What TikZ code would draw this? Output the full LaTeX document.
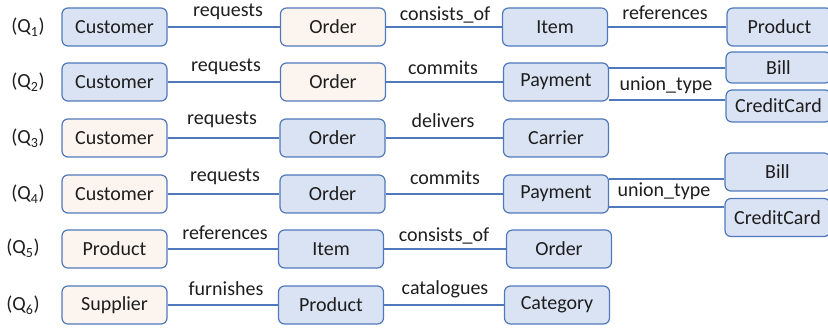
\documentclass[tikz,border=0pt]{standalone}
\usepackage{fontspec}
\setmainfont{Carlito}
\definecolor{bfill}{HTML}{DAE3F3}
\definecolor{pfill}{HTML}{FCF4EE}
\definecolor{edge}{HTML}{4F79BC}
\definecolor{txt}{HTML}{1E1E1E}
\begin{document}
\begin{tikzpicture}[x=1pt,y=-1pt,
  font=\fontsize{20}{24}\selectfont, text=txt,
  ent/.style={draw=edge, line width=1.2pt, rounded corners=6pt, minimum height=38pt, minimum width=105pt, inner sep=0pt},
  blu/.style={ent, fill=bfill},
  pch/.style={ent, fill=pfill},
  lnk/.style={draw=edge, line width=1.2pt},
  lab/.style={anchor=base, inner sep=0pt},
  ql/.style={anchor=base, inner sep=0pt}]
\useasboundingbox (0,0) rectangle (828,328);
% Q labels
\node[ql] (q1) at (28,33) {(Q\textsubscript{1})};
\node[ql] (q2) at (28,88) {(Q\textsubscript{2})};
\node[ql] (q3) at (28,144) {(Q\textsubscript{3})};
\node[ql] (q4) at (28,200) {(Q\textsubscript{4})};
\node[ql] (q5) at (23,254) {(Q\textsubscript{5})};
\node[ql] (q6) at (23,311) {(Q\textsubscript{6})};
% Row 1
\node[blu] (a1) at (114.5,27) {Customer};
\node[pch] (b1) at (333,27) {Order};
\node[blu] (c1) at (555,27) {Item};
\node[blu] (d1) at (779.5,27) {Product};
\draw[lnk] (a1) -- (b1); \draw[lnk] (b1) -- (c1); \draw[lnk] (c1) -- (d1);
\node[lab] (l11) at (228,17) {requests};
\node[lab] (l12) at (445,21) {consists\_of};
\node[lab] (l13) at (665,20) {references};
% Row 2
\node[blu] (a2) at (114.5,82) {Customer};
\node[pch] (b2) at (333,82) {Order};
\node[blu] (c2) at (556,82) {Payment};
\node[blu, minimum height=31pt] (d2) at (778.5,67.5) {Bill};
\node[blu, minimum height=32pt] (e2) at (778.5,106) {CreditCard};
\draw[lnk] (a2) -- (b2); \draw[lnk] (b2) -- (c2);
\draw[lnk] (c2.east |- 0,68) -- (d2.west |- 0,68);
\draw[lnk] (c2.east |- 0,100) -- (e2.west |- 0,100);
\node[lab] (l21) at (226,72) {requests};
\node[lab] (l22) at (443,75) {commits};
\node[lab] (l23) at (666,91) {union\_type};
% Row 3
\node[pch] (a3) at (114.5,138) {Customer};
\node[blu] (b3) at (332.5,138) {Order};
\node[blu] (c3) at (556,138) {Carrier};
\draw[lnk] (a3) -- (b3); \draw[lnk] (b3) -- (c3);
\node[lab] (l31) at (222,125) {requests};
\node[lab] (l32) at (443,128) {delivers};
% Row 4
\node[pch] (a4) at (114.5,194) {Customer};
\node[blu] (b4) at (332.5,194) {Order};
\node[blu] (c4) at (556,194) {Payment};
\node[blu] (d4) at (777.5,172) {Bill};
\node[blu] (e4) at (777.5,217.5) {CreditCard};
\draw[lnk] (a4) -- (b4); \draw[lnk] (b4) -- (c4);
\draw[lnk] (c4.east |- 0,179) -- (d4.west |- 0,179);
\draw[lnk] (c4.east |- 0,207) -- (e4.west |- 0,207);
\node[lab] (l41) at (225,182) {requests};
\node[lab] (l42) at (445,185) {commits};
\node[lab] (l43) at (664,197) {union\_type};
% Row 5
\node[pch] (a5) at (114.5,249) {Product};
\node[blu] (b5) at (331,249) {Item};
\node[blu] (c5) at (559,249) {Order};
\draw[lnk] (a5) -- (b5); \draw[lnk] (b5) -- (c5);
\node[lab] (l51) at (225,240) {references};
\node[lab] (l52) at (444,242) {consists\_of};
% Row 6
\node[pch] (a6) at (114.5,305) {Supplier};
\node[blu] (b6) at (331,305) {Product};
\node[blu] (c6) at (557,305) {Category};
\draw[lnk] (a6) -- (b6); \draw[lnk] (b6) -- (c6);
\node[lab] (l61) at (226,296) {furnishes};
\node[lab] (l62) at (445,295) {catalogues};
\end{tikzpicture}
\end{document}
